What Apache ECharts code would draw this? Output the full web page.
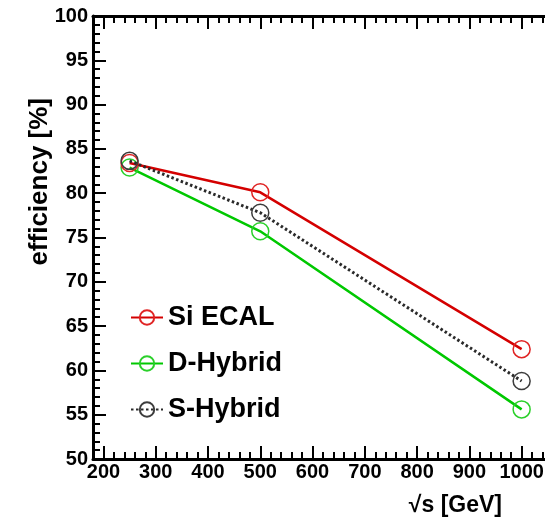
<!DOCTYPE html>
<html>
<head>
<meta charset="utf-8">
<script src="https://cdn.jsdelivr.net/npm/echarts@6/dist/echarts.min.js"></script>
<style>
  html, body { margin: 0; padding: 0; background: #fff; }
  #chart { width: 545px; height: 521px; }
</style>
</head>
<body>
<div id="chart"></div>
<script>
// Centre-of-mass energies [GeV]
const energies = [250, 500, 1000];
// Efficiency [%] per ECAL option
const siEcal = [83.4, 80.1, 62.4];
const dHybrid = [82.9, 75.7, 55.6];
const sHybrid = [83.65, 77.8, 58.8];
// Major tick positions
const xTicks = [200, 300, 400, 500, 600, 700, 800, 900, 1000];
const yTicks = [50, 55, 60, 65, 70, 75, 80, 85, 90, 95, 100];

const FONT = '"Liberation Sans", Arial, Helvetica, sans-serif';
const X_MIN = 180, X_MAX = 1060;

const chart = echarts.init(document.getElementById('chart'), null, { renderer: 'canvas' });

function pairs(ys) {
  return energies.map((x, i) => [x, ys[i]]);
}

function minorXAxis(position) {
  return {
    type: 'value', position: position, min: X_MIN, max: X_MAX, interval: 20,
    axisLine: { show: true, onZero: false, lineStyle: { color: '#000', width: 3 } },
    axisTick: { show: true, inside: true, length: 7, lineStyle: { color: '#000', width: 2 } },
    axisLabel: { show: false },
    splitLine: { show: false }
  };
}

function majorXAxis(position, labels) {
  return {
    type: 'value', position: position, min: X_MIN, max: X_MAX,
    axisLine: { show: false, onZero: false },
    axisTick: { show: true, inside: true, length: 13, customValues: xTicks,
      lineStyle: { color: '#000', width: 2 } },
    axisLabel: labels ? {
      show: true, customValues: xTicks, margin: 3,
      formatter: (v) => String(v),
      color: '#000', fontFamily: FONT, fontWeight: 'bold', fontSize: 20
    } : { show: false },
    splitLine: { show: false }
  };
}

function makeSeries(name, ys, lineColor, markColor, lineWidth, lineType, z) {
  return {
    name: name,
    type: 'line',
    xAxisIndex: 0,
    data: pairs(ys),
    symbol: 'circle',
    symbolSize: 17,
    z: z,
    lineStyle: { color: lineColor, width: lineWidth, type: lineType },
    itemStyle: { color: 'rgba(0,0,0,0)', borderColor: markColor, borderWidth: 1.5 },
    emphasis: { disabled: true },
    animation: false
  };
}

chart.setOption({
  backgroundColor: '#fff',
  animation: false,
  grid: {
    left: 93, top: 16, width: 460, height: 443,
    containLabel: false, outerBoundsMode: 'none'
  },
  xAxis: [
    minorXAxis('bottom'),
    majorXAxis('bottom', true),
    minorXAxis('top'),
    majorXAxis('top', false)
  ],
  yAxis: {
    type: 'value', min: 50, max: 100, interval: 5,
    axisLine: { show: true, onZero: false, lineStyle: { color: '#000', width: 3 } },
    axisTick: { show: true, inside: true, length: 13, lineStyle: { color: '#000', width: 2 } },
    minorTick: { show: true, splitNumber: 5, length: 7, lineStyle: { color: '#000', width: 2 } },
    axisLabel: {
      margin: 5, color: '#000', fontFamily: FONT, fontWeight: 'bold', fontSize: 20,
      customValues: yTicks
    },
    splitLine: { show: false }
  },
  legend: {
    orient: 'vertical',
    left: 130,
    top: 304,
    padding: 0,
    itemWidth: 32,
    itemHeight: 18,
    itemGap: 19,
    selectedMode: false,
    data: ['Si ECAL', 'D-Hybrid', 'S-Hybrid'],
    textStyle: { color: '#000', fontFamily: FONT, fontWeight: 'bold', fontSize: 27, lineHeight: 26 }
  },
  series: [
    makeSeries('Si ECAL', siEcal, '#d40000', '#e02424', 2.5, 'solid', 3),
    makeSeries('D-Hybrid', dHybrid, '#00c800', '#2ad02a', 2.5, 'solid', 2),
    makeSeries('S-Hybrid', sHybrid, '#2a2a2a', '#3c3c3c', 3, [2.5, 2.5], 4)
  ],
  graphic: [
    {
      type: 'text',
      x: 40, y: 98,
      rotation: Math.PI / 2,
      style: {
        text: 'efficiency [%]',
        fill: '#000',
        font: 'bold 26px ' + FONT,
        align: 'right',
        verticalAlign: 'middle'
      }
    },
    {
      type: 'text',
      x: 502, y: 506,
      style: {
        text: '\u221As [GeV]',
        fill: '#000',
        font: 'bold 23px ' + FONT,
        align: 'right',
        verticalAlign: 'middle'
      }
    }
  ]
});
</script>
</body>
</html>
